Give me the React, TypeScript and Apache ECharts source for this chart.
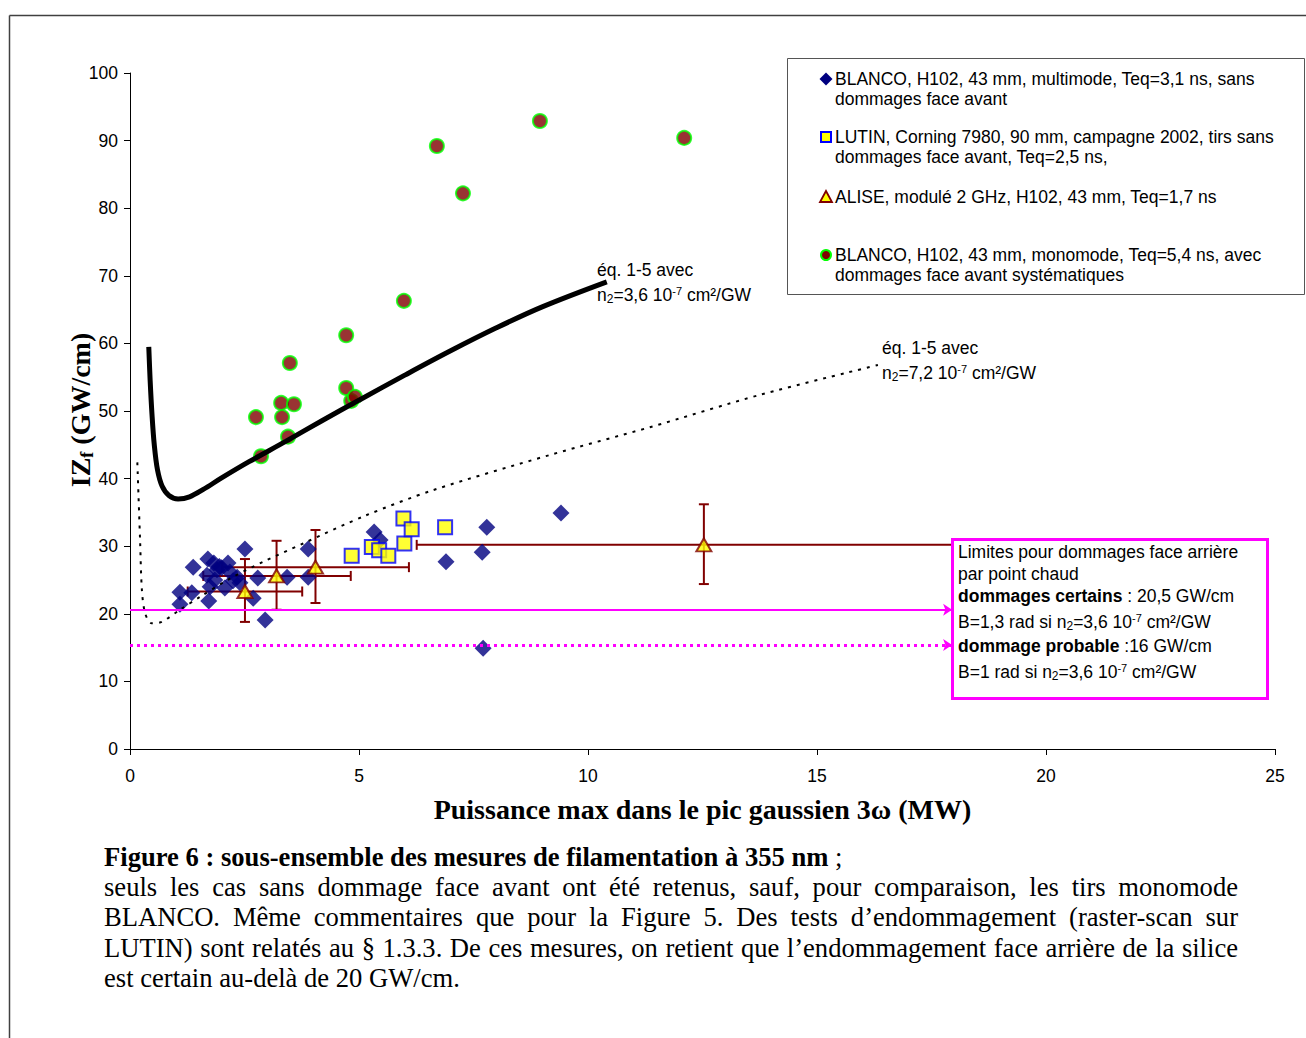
import React, { useEffect, useRef } from 'react';
import * as echarts from 'echarts';

// ---------- axes ----------
const X_MIN = 0, X_MAX = 25, X_STEP = 5;
const Y_MIN = 0, Y_MAX = 100, Y_STEP = 10;

// ---------- data (x: MW, y: GW/cm) ----------
const blancoMultimode: number[][] = [
  [1.09, 23.2], [1.09, 21.4], [1.38, 26.9], [1.35, 23.1], [1.70, 28.1], [1.83, 27.5],
  [2.14, 27.5], [1.68, 25.7], [1.90, 26.5], [2.18, 26.2], [2.34, 25.4], [2.51, 29.6],
  [1.72, 21.9], [1.75, 24.0], [2.07, 23.8], [2.40, 24.6], [2.79, 25.3], [2.69, 22.3],
  [2.95, 19.1], [3.43, 25.4], [3.89, 29.6], [3.89, 25.4], [5.33, 32.1], [5.46, 30.9],
  [6.90, 27.7], [7.69, 29.1], [7.79, 32.8], [9.41, 34.9], [7.71, 14.9],
  [1.95, 27.0], [2.25, 24.9], [1.85, 25.0], [2.0, 26.8],
];
const lutin: number[][] = [
  [4.84, 28.6], [5.28, 29.9], [5.44, 29.4], [5.64, 28.6], [5.97, 34.1], [5.99, 30.4],
  [6.15, 32.5], [6.88, 32.8],
];
const alise: number[][] = [[2.51, 23.3], [3.20, 25.6], [4.05, 26.9], [12.53, 30.2]];
const aliseXLow = [1.26, 1.60, 2.01, 6.26];
const aliseXHigh = [3.76, 4.82, 6.09, 18.8];
const aliseYLow = [18.8, 20.6, 21.6, 24.4];
const aliseYHigh = [28.1, 30.8, 32.4, 36.2];
const blancoMonomode: number[][] = [
  [2.75, 49.1], [2.86, 43.3], [3.30, 51.2], [3.32, 49.1], [3.45, 46.2], [3.49, 57.1],
  [3.58, 51.0], [4.72, 61.2], [4.72, 53.4], [4.83, 51.5], [4.91, 52.1], [5.98, 66.3],
  [6.70, 89.2], [7.27, 82.2], [8.95, 92.9], [12.10, 90.4],
];
const curveN2_36: number[][] = [
  [0.41, 59.5], [0.44, 54.5], [0.48, 49.5], [0.53, 45.0], [0.60, 41.3], [0.70, 38.9],
  [0.85, 37.5], [1.05, 37.0], [1.30, 37.3], [1.60, 38.4], [2.00, 40.1], [2.60, 42.5],
  [3.40, 45.5], [4.20, 48.6], [5.00, 51.6], [6.00, 55.3], [7.00, 58.9], [8.00, 62.3],
  [9.00, 65.4], [10.41, 69.1],
];
const curveN2_72: number[][] = [
  [0.16, 42.4], [0.22, 30.9], [0.26, 23.5], [0.33, 20.1], [0.47, 18.6], [0.69, 18.8],
  [1.09, 20.6], [1.53, 22.5], [2.18, 25.2], [2.91, 27.7], [3.78, 30.4], [5.13, 34.5],
  [6.62, 38.3], [9.17, 43.5], [11.35, 47.6], [13.76, 52.4], [16.33, 56.8],
];
const limitCertain = 20.6;
const limitProbable = 15.4;
const limitArrowEnd = 17.95;

// ---------- texts ----------
const xAxisTitle = 'Puissance max dans le pic gaussien 3ω (MW)';
const legendLabels = [
  ['BLANCO, H102, 43 mm, multimode, Teq=3,1 ns, sans', 'dommages face avant'],
  ['LUTIN, Corning 7980, 90 mm, campagne 2002, tirs sans', 'dommages face avant, Teq=2,5 ns,'],
  ['ALISE, modulé 2 GHz, H102, 43 mm, Teq=1,7 ns'],
  ['BLANCO, H102, 43 mm, monomode, Teq=5,4 ns, avec', 'dommages face avant systématiques'],
];
const captionTitle = 'Figure 6 : sous-ensemble des mesures de filamentation à 355 nm';
const captionJustified = [
  'seuls les cas sans dommage face avant ont été retenus, sauf, pour comparaison, les tirs monomode',
  'BLANCO. Même commentaires que pour la Figure 5. Des tests d’endommagement (raster-scan sur',
  'LUTIN) sont relatés au § 1.3.3. De ces mesures, on retient que l’endommagement face arrière de la silice',
];
const captionLast = 'est certain au-delà de 20 GW/cm.';

const SANS = '"Liberation Sans", Arial, sans-serif';
const SERIF = '"Liberation Serif", "Times New Roman", serif';
const CAP_SIZE = 26.6;

const richSmall = {
  t: { fontFamily: SANS, fontSize: 17.5, lineHeight: 20, fill: '#000', color: '#000' },
  b: { fontFamily: SANS, fontSize: 17.5, lineHeight: 20, fontWeight: 'bold', fill: '#000', color: '#000' },
  sub: { fontFamily: SANS, fontSize: 12, lineHeight: 11, verticalAlign: 'bottom', fill: '#000', color: '#000' },
  sup: { fontFamily: SANS, fontSize: 11, lineHeight: 8, verticalAlign: 'top', fill: '#000', color: '#000' },
};

function txt(x: number, y: number, text: string, extra: any = {}) {
  return {
    type: 'text',
    x,
    y,
    z: 110,
    style: {
      text,
      font: `17.5px ${SANS}`,
      fill: '#000',
      textAlign: 'left',
      textVerticalAlign: 'middle',
      align: 'left',
      verticalAlign: 'middle',
      rich: richSmall,
      ...extra,
    },
  };
}

export default function App() {
  const ref = useRef<HTMLDivElement>(null);

  useEffect(() => {
    if (!ref.current) return;
    const chart = echarts.init(ref.current, undefined, { renderer: 'svg' });

    // caption word layout (justified lines)
    const canvas = document.createElement('canvas');
    const ctx = canvas.getContext('2d')!;
    const capFont = `${CAP_SIZE}px ${SERIF}`;
    ctx.font = capFont;
    const capLeft = 104, capRight = 1238;
    const capY = [857, 887, 917, 948, 978];
    const captionEls: any[] = [];
    captionEls.push({
      type: 'text', x: capLeft, y: capY[0], z: 110,
      style: {
        text: `{b|${captionTitle}}{r| ;}`,
        textAlign: 'left', textVerticalAlign: 'middle', align: 'left', verticalAlign: 'middle',
        rich: {
          b: { fontFamily: SERIF, fontSize: CAP_SIZE, fontWeight: 'bold', fill: '#000', color: '#000' },
          r: { fontFamily: SERIF, fontSize: CAP_SIZE, fill: '#000', color: '#000' },
        },
      },
    });
    captionJustified.forEach((line, li) => {
      const words = line.split(' ');
      const widths = words.map((w) => ctx.measureText(w).width);
      const total = widths.reduce((a, b) => a + b, 0);
      const gap = (capRight - capLeft - total) / (words.length - 1);
      let x = capLeft;
      words.forEach((w, i) => {
        captionEls.push({
          type: 'text', x, y: capY[li + 1], z: 110,
          style: {
            text: w, font: capFont, fill: '#000',
            textAlign: 'left', textVerticalAlign: 'middle', align: 'left', verticalAlign: 'middle',
          },
        });
        x += widths[i] + gap;
      });
    });
    captionEls.push({
      type: 'text', x: capLeft, y: capY[4], z: 110,
      style: {
        text: captionLast, font: capFont, fill: '#000',
        textAlign: 'left', textVerticalAlign: 'middle', align: 'left', verticalAlign: 'middle',
      },
    });

    // y axis title (rotated)
    const yTitleEl = {
      type: 'text', x: 80, y: 410, rotation: Math.PI / 2, z: 110,
      style: {
        text: '{a|IZ}{s|f}{a| (GW/cm)}',
        textAlign: 'center', textVerticalAlign: 'middle', align: 'center', verticalAlign: 'middle',
        rich: {
          a: { fontFamily: SERIF, fontWeight: 'bold', fontSize: 28, lineHeight: 32, fill: '#000', color: '#000' },
          s: { fontFamily: SERIF, fontWeight: 'bold', fontSize: 18, lineHeight: 18, verticalAlign: 'bottom', fill: '#000', color: '#000' },
        },
      },
    };

    // legend
    const legX = 826;
    const legTextX = 835;
    const legRows = [79, 137, 197, 255];
    const legendEls: any[] = [
      {
        type: 'rect', z: 100,
        shape: { x: 787.5, y: 58.5, width: 517, height: 236 },
        style: { fill: '#fff', stroke: '#555', lineWidth: 1 },
      },
      {
        type: 'polygon', z: 105,
        shape: { points: [[legX, legRows[0] - 6.5], [legX + 6.5, legRows[0]], [legX, legRows[0] + 6.5], [legX - 6.5, legRows[0]]] },
        style: { fill: '#000080' },
      },
      {
        type: 'rect', z: 105,
        shape: { x: legX - 5, y: legRows[1] - 5, width: 10, height: 10 },
        style: { fill: '#FFFF00', stroke: '#0000FF', lineWidth: 2 },
      },
      {
        type: 'polygon', z: 105,
        shape: { points: [[legX, legRows[2] - 6], [legX + 6, legRows[2] + 5], [legX - 6, legRows[2] + 5]] },
        style: { fill: '#FFFF00', stroke: '#800000', lineWidth: 1.8 },
      },
      {
        type: 'circle', z: 105,
        shape: { cx: legX, cy: legRows[3], r: 5 },
        style: { fill: '#800000', stroke: '#00FF00', lineWidth: 2 },
      },
    ];
    legendLabels.forEach((lines, i) => {
      lines.forEach((l, j) => {
        legendEls.push(txt(legTextX, legRows[i] + j * 20, l));
      });
    });

    // pink box
    const pinkEls: any[] = [
      {
        type: 'rect', z: 100,
        shape: { x: 952.5, y: 539.5, width: 315, height: 159 },
        style: { fill: '#fff', stroke: '#FF00FF', lineWidth: 3 },
      },
      txt(958, 552, 'Limites pour dommages face arrière'),
      txt(958, 574, 'par point chaud'),
      txt(958, 596, '{b|dommages certains}{t| : 20,5 GW/cm}'),
      txt(958, 622, '{t|B=1,3 rad si n}{sub|2}{t|=3,6 10}{sup|-7}{t| cm²/GW}'),
      txt(958, 646, '{b|dommage probable}{t| :16 GW/cm}'),
      txt(958, 672, '{t|B=1 rad si n}{sub|2}{t|=3,6 10}{sup|-7}{t| cm²/GW}'),
    ];

    // curve annotations
    const annotEls: any[] = [
      txt(597, 270, 'éq. 1-5 avec'),
      txt(597, 295, '{t|n}{sub|2}{t|=3,6 10}{sup|-7}{t| cm²/GW}'),
      txt(882, 348, 'éq. 1-5 avec'),
      txt(882, 373, '{t|n}{sub|2}{t|=7,2 10}{sup|-7}{t| cm²/GW}'),
    ];

    // outer frame
    const frameEls: any[] = [
      { type: 'line', z: 90, shape: { x1: 9.5, y1: 15.5, x2: 1306, y2: 15.5 }, style: { stroke: '#404040', lineWidth: 1.5 } },
      { type: 'line', z: 90, shape: { x1: 9.5, y1: 15.5, x2: 9.5, y2: 1038 }, style: { stroke: '#404040', lineWidth: 1.5 } },
    ];

    const errData = alise.map((p, i) => [p[0], p[1], aliseXLow[i], aliseXHigh[i], aliseYLow[i], aliseYHigh[i]]);

    const option: any = {
      animation: false,
      backgroundColor: '#fff',
      grid: { left: 130, right: 31, top: 73, bottom: 289, containLabel: false },
      xAxis: {
        type: 'value', min: X_MIN, max: X_MAX, interval: X_STEP,
        axisLine: { show: true, onZero: false, lineStyle: { color: '#000', width: 1 } },
        axisTick: { show: true, length: 6, lineStyle: { color: '#000' } },
        splitLine: { show: false },
        axisLabel: { fontFamily: SANS, fontSize: 17.5, color: '#000', margin: 18 },
        name: xAxisTitle,
        nameLocation: 'middle', nameGap: 46,
        nameTextStyle: { fontFamily: SERIF, fontWeight: 'bold', fontSize: 28, color: '#000' },
      },
      yAxis: {
        type: 'value', min: Y_MIN, max: Y_MAX, interval: Y_STEP,
        axisLine: { show: true, onZero: false, lineStyle: { color: '#000', width: 1 } },
        axisTick: { show: true, length: 6, lineStyle: { color: '#000' } },
        splitLine: { show: false },
        axisLabel: { fontFamily: SANS, fontSize: 17.5, color: '#000', margin: 12 },
      },
      series: [
        {
          type: 'line', data: curveN2_72, showSymbol: false, symbol: 'none', smooth: 0.3,
          lineStyle: { color: '#000', width: 2, type: [3, 6] }, silent: true,
        },
        {
          type: 'line', data: curveN2_36, showSymbol: false, symbol: 'none', smooth: 0.35,
          lineStyle: { color: '#000', width: 5 }, silent: true,
        },
        {
          type: 'scatter', data: [[0, limitCertain]], symbolSize: 0, silent: true,
          markLine: {
            silent: true, symbol: ['none', 'arrow'], symbolSize: 9,
            label: { show: false },
            data: [
              [
                { coord: [0, limitCertain], lineStyle: { color: '#FF00FF', width: 2, type: 'solid' } },
                { coord: [limitArrowEnd, limitCertain] },
              ],
              [
                { coord: [0, limitProbable], lineStyle: { color: '#FF00FF', width: 3, type: [3, 4] } },
                { coord: [limitArrowEnd, limitProbable] },
              ],
            ],
          },
        },
        {
          type: 'custom', data: errData, encode: { x: 0, y: 1 }, silent: true,
          renderItem: (params: any, api: any) => {
            const x = api.value(0), y = api.value(1);
            const pL = api.coord([api.value(2), y]);
            const pR = api.coord([api.value(3), y]);
            const pB = api.coord([x, api.value(4)]);
            const pT = api.coord([x, api.value(5)]);
            const c = 5;
            const style = { stroke: '#800000', lineWidth: 2 };
            return {
              type: 'group',
              children: [
                { type: 'line', shape: { x1: pL[0], y1: pL[1], x2: pR[0], y2: pR[1] }, style },
                { type: 'line', shape: { x1: pL[0], y1: pL[1] - c, x2: pL[0], y2: pL[1] + c }, style },
                { type: 'line', shape: { x1: pR[0], y1: pR[1] - c, x2: pR[0], y2: pR[1] + c }, style },
                { type: 'line', shape: { x1: pB[0], y1: pB[1], x2: pT[0], y2: pT[1] }, style },
                { type: 'line', shape: { x1: pB[0] - c, y1: pB[1], x2: pB[0] + c, y2: pB[1] }, style },
                { type: 'line', shape: { x1: pT[0] - c, y1: pT[1], x2: pT[0] + c, y2: pT[1] }, style },
              ],
            };
          },
        },
        {
          name: 'BLANCO multimode', type: 'scatter', data: blancoMultimode,
          symbol: 'diamond', symbolSize: 17, itemStyle: { color: '#000080' }, silent: true,
        },
        {
          name: 'LUTIN', type: 'scatter', data: lutin,
          symbol: 'rect', symbolSize: 14,
          itemStyle: { color: '#FFFF00', borderColor: '#0000FF', borderWidth: 2 }, silent: true,
        },
        {
          name: 'ALISE', type: 'scatter', data: alise,
          symbol: 'triangle', symbolSize: [15, 13],
          itemStyle: { color: '#FFFF00', borderColor: '#800000', borderWidth: 2 }, silent: true,
        },
        {
          name: 'BLANCO monomode', type: 'scatter', data: blancoMonomode,
          symbol: 'circle', symbolSize: 14,
          itemStyle: { color: '#800000', borderColor: '#00FF00', borderWidth: 2 }, silent: true,
        },
      ],
      graphic: { elements: [...frameEls, yTitleEl, ...legendEls, ...pinkEls, ...annotEls, ...captionEls] },
    };

    chart.setOption(option);
    return () => chart.dispose();
  }, []);

  return (
    <div
      ref={ref}
      style={{ position: 'fixed', left: 0, top: 0, width: 1306, height: 1038, background: '#fff' }}
    />
  );
}
